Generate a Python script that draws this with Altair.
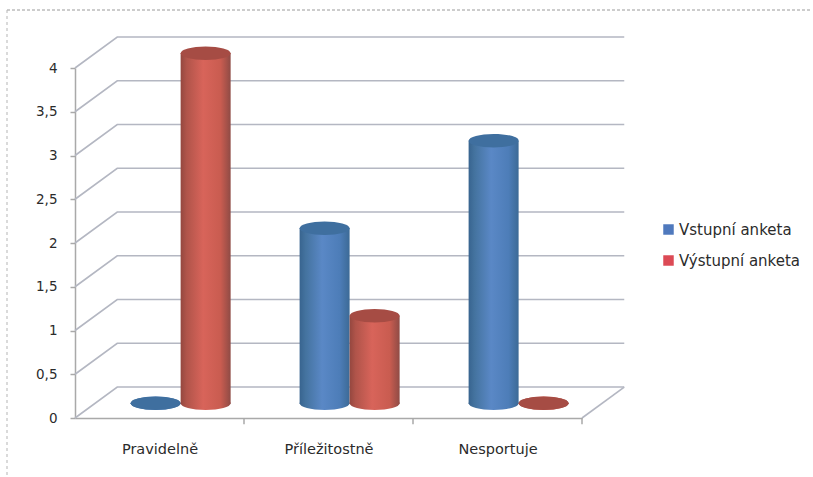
import json
import altair as alt
import pandas as pd

# Survey results, one value per category
categories = ["Pravidelně", "Příležitostně", "Nesportuje"]
series_names = ["Vstupní anketa", "Výstupní anketa"]
entry_survey = [0, 2, 3]
exit_survey = [4, 1, 0]
value_ticks = [0, 0.5, 1, 1.5, 2, 2.5, 3, 3.5, 4]
category_edges = [0, 1, 2, 3]

# Oblique projection of the box, in axis units
WALL_DX = 0.25
WALL_DY = 0.354
FLOOR_DX = 0.125
FLOOR_DY = 0.17
CYL_HALF = 0.148

rows = []
for name, values, side in ((series_names[0], entry_survey, -1), (series_names[1], exit_survey, 1)):
    for i, (cat, val) in enumerate(zip(categories, values)):
        rows.append({
            "category": cat,
            "series": name,
            "value": val,
            "xc": i + 0.5 + FLOOR_DX + side * CYL_HALF,
            "base": FLOOR_DY,
            "top": val + FLOOR_DY,
        })
cylinders = pd.DataFrame(rows)

grid_rows = []
for v in value_ticks:
    grid_rows += [
        {"line": v, "order": 0, "x": 0, "y": v},
        {"line": v, "order": 1, "x": WALL_DX, "y": v + WALL_DY},
        {"line": v, "order": 2, "x": 3 + WALL_DX, "y": v + WALL_DY},
    ]
grid = pd.DataFrame(grid_rows)
floor_edge = pd.DataFrame([
    {"x": 3, "y": 0, "order": 0},
    {"x": 3 + WALL_DX, "y": WALL_DY, "order": 1},
])
ticks = pd.DataFrame({"x": category_edges[1:], "y": [0] * 3, "y2": [-0.07] * 3})

x_scale = alt.Scale(domain=[0, 3], nice=False, zero=False, padding=0)
y_scale = alt.Scale(domain=[0, 4], nice=False, zero=False, padding=0)

ELLIPSE = "M-1,0A1,0.27,0,1,0,1,0A1,0.27,0,1,0,-1,0Z"
GRID_COLOR = "#b4b7c2"
TEXT_COLOR = "#2b2b2b"
FONT = "DejaVu Sans"


def shaded(stops):
    return alt.Gradient(
        gradient="linear", x1=0, x2=1, y1=0, y2=0,
        stops=[alt.GradientStop(offset=o, color=c) for o, c in stops],
    )


SHADES = {
    series_names[0]: ("#3f6f9f", shaded([(0, "#38648f"), (0.12, "#44739f"), (0.45, "#5a88c6"),
                                         (0.8, "#4d7db8"), (1, "#3c6a96")])),
    series_names[1]: ("#a64c44", shaded([(0, "#94473f"), (0.12, "#b0544a"), (0.45, "#d8645a"),
                                         (0.8, "#c95c50"), (1, "#8f4b45")])),
}

x_axis = alt.Axis(
    values=[0.5, 1.5, 2.5],
    labelExpr=f"{json.dumps(categories, ensure_ascii=False)}[floor(datum.value)]",
    title=None, grid=False, ticks=False, domainColor="#a9a9a9", domainWidth=1.5,
    labelFont=FONT, labelFontSize=14.5, labelColor=TEXT_COLOR, labelPadding=24,
)
y_axis = alt.Axis(
    values=value_ticks,
    labelExpr="replace(format(datum.value, '.1~f'), '.', ',')",
    title=None, grid=False, domainColor="#a9a9a9", domainWidth=1.5,
    tickColor="#a9a9a9", tickSize=5, tickWidth=1.5,
    labelFont=FONT, labelFontSize=13.5, labelColor=TEXT_COLOR, labelPadding=13,
)

wall = alt.Chart(grid).mark_line(color=GRID_COLOR, strokeWidth=1.6).encode(
    x=alt.X("x:Q", scale=x_scale, axis=x_axis),
    y=alt.Y("y:Q", scale=y_scale, axis=y_axis),
    detail="line:N",
    order="order:Q",
)
floor_line = alt.Chart(floor_edge).mark_line(color=GRID_COLOR, strokeWidth=1.6).encode(
    x=alt.X("x:Q", scale=x_scale), y=alt.Y("y:Q", scale=y_scale), order="order:Q",
)
tick_marks = alt.Chart(ticks).mark_rule(color="#a9a9a9", strokeWidth=1.5).encode(
    x=alt.X("x:Q", scale=x_scale), y=alt.Y("y:Q", scale=y_scale), y2="y2:Q",
)

# Hidden marks that only feed the legend
legend_layer = alt.Chart(cylinders).mark_square(opacity=0).encode(
    x=alt.X("xc:Q", scale=x_scale),
    y=alt.Y("base:Q", scale=y_scale),
    color=alt.Color(
        "series:N",
        scale=alt.Scale(domain=series_names, range=["#4f79bd", "#dc4a55"]),
        legend=alt.Legend(
            title=None, orient="none", legendX=586, legendY=154,
            symbolType="square", symbolSize=110, symbolOpacity=1,
            labelFont=FONT, labelFontSize=15, labelColor=TEXT_COLOR,
            labelOffset=3, rowPadding=15,
        ),
    ),
)

layers = [wall, floor_line, tick_marks, legend_layer]
for name in series_names:
    cap_color, body_fill = SHADES[name]
    subset = cylinders[cylinders["series"] == name]
    enc_x = alt.X("xc:Q", scale=x_scale)
    bottom = alt.Chart(subset).mark_point(
        shape=ELLIPSE, size=2500, filled=True, opacity=1, fill=body_fill, strokeWidth=0,
    ).encode(x=enc_x, y=alt.Y("base:Q", scale=y_scale))
    body = alt.Chart(subset).mark_bar(size=50, fill=body_fill).encode(
        x=enc_x, y=alt.Y("top:Q", scale=y_scale), y2="base:Q",
    )
    cap = alt.Chart(subset).mark_point(
        shape=ELLIPSE, size=2500, filled=True, opacity=1, fill=cap_color, strokeWidth=0,
    ).encode(x=enc_x, y=alt.Y("top:Q", scale=y_scale))
    layers += [bottom, body, cap]

# Dotted scan frame along the top and left edges of the sheet
frame_top = alt.Chart(pd.DataFrame({"k": [0]})).mark_rule(
    color="#9a9a9a", strokeDash=[3, 2], strokeWidth=1,
).encode(x=alt.value(-68), x2=alt.value(735), y=alt.value(-58))
frame_left = alt.Chart(pd.DataFrame({"k": [0]})).mark_rule(
    color="#b5b5b5", strokeDash=[3, 3], strokeWidth=1,
).encode(x=alt.value(-68), y=alt.value(-58), y2=alt.value(409))

chart = alt.layer(*layers, frame_top, frame_left).properties(
    width=507,
    height=350,
    padding={"left": 75, "top": 68, "right": 231, "bottom": 59},
    autosize=alt.AutoSizeParams(type="none"),
    background="white",
).configure_view(stroke=None, clip=False)

chart.save("out.html", embed_options={"renderer": "svg", "actions": False})
